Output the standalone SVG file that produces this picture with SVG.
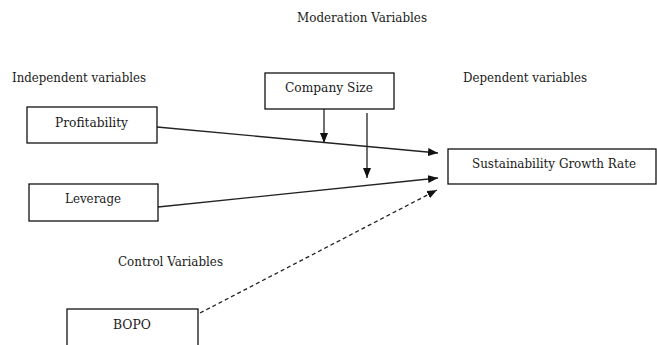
<svg xmlns="http://www.w3.org/2000/svg" width="657" height="345" viewBox="0 0 657 345">
  <style>
    .box { fill: #fff; stroke: #111; stroke-width: 1.3; }
    .lbl { font-size: 12px; fill: #1a1a1a; }
    .link { fill: none; stroke: #222; stroke-width: 1.3; }
    .dash { stroke-dasharray: 4 3; }
  </style>
  <defs>
    <marker id="arrow" viewBox="0 0 10 8" refX="10" refY="4" markerWidth="10" markerHeight="8" markerUnits="userSpaceOnUse" orient="auto">
      <path d="M0,0 L10,4 L0,8 Z" fill="#111"/>
    </marker>
  </defs>
  <rect width="657" height="345" fill="#fff"/>

  <g font-family="'DejaVu Serif', serif">
  <!-- section headings -->
  <g id="headings">
    <text class="lbl" x="297" y="22" textLength="130" lengthAdjust="spacingAndGlyphs">Moderation Variables</text>
    <text class="lbl" x="12" y="82" textLength="134" lengthAdjust="spacingAndGlyphs">Independent variables</text>
    <text class="lbl" x="463" y="82" textLength="124" lengthAdjust="spacingAndGlyphs">Dependent variables</text>
    <text class="lbl" x="118" y="266" textLength="105" lengthAdjust="spacingAndGlyphs">Control Variables</text>
  </g>

  <!-- connectors -->
  <g id="connectors">
    <line class="link" x1="157" y1="127" x2="438" y2="153" marker-end="url(#arrow)"/>
    <line class="link" x1="158" y1="207" x2="438" y2="178" marker-end="url(#arrow)"/>
    <line class="link" x1="324" y1="109" x2="324" y2="143" marker-end="url(#arrow)"/>
    <line class="link" x1="367" y1="113" x2="367" y2="178" marker-end="url(#arrow)"/>
    <line class="link dash" x1="200" y1="313" x2="437" y2="190" marker-end="url(#arrow)"/>
  </g>

  <g id="node-profitability">
    <rect class="box" x="27" y="107" width="130" height="36"/>
    <text class="lbl" x="55" y="127" textLength="73" lengthAdjust="spacingAndGlyphs">Profitability</text>
  </g>

  <g id="node-leverage">
    <rect class="box" x="29" y="184" width="129" height="37"/>
    <text class="lbl" x="65" y="203" textLength="56" lengthAdjust="spacingAndGlyphs">Leverage</text>
  </g>

  <g id="node-company-size">
    <rect class="box" x="265" y="73" width="129" height="36"/>
    <text class="lbl" x="285" y="92" textLength="88" lengthAdjust="spacingAndGlyphs">Company Size</text>
  </g>

  <g id="node-sgr">
    <rect class="box" x="448" y="149" width="208" height="35"/>
    <text class="lbl" x="472" y="168" textLength="164" lengthAdjust="spacingAndGlyphs">Sustainability Growth Rate</text>
  </g>

  <g id="node-bopo">
    <rect class="box" x="67" y="309" width="131" height="50"/>
    <text class="lbl" x="113" y="329" textLength="38" lengthAdjust="spacingAndGlyphs">BOPO</text>
  </g>
  </g>
</svg>
